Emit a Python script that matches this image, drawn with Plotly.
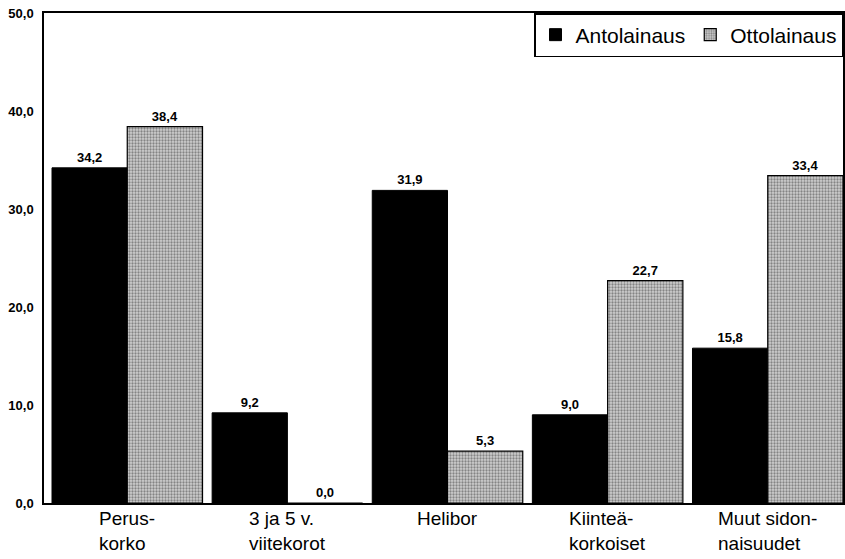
import plotly.graph_objects as go

categories = ["Perus-<br>korko", "3 ja 5 v.<br>viitekorot", "Helibor", "Kiinteä-<br>korkoiset", "Muut sidon-<br>naisuudet"]
antolainaus = [34.2, 9.2, 31.9, 9.0, 15.8]
ottolainaus = [38.4, 0.0, 5.3, 22.7, 33.4]
y_ticks = [0, 10, 20, 30, 40, 50]

FONT = "Liberation Sans, Arial, sans-serif"
xs = list(range(len(categories)))

fig = go.Figure()
fig.add_trace(go.Bar(
    x=xs, y=antolainaus, name="Antolainaus",
    marker=dict(color="#000000", line=dict(color="#000000", width=1)),
    texttemplate="%{y:.1f}", textposition="outside",
    textfont=dict(family=FONT, size=13, color="#000", weight="bold"),
    cliponaxis=False,
))
fig.add_trace(go.Bar(
    x=xs, y=ottolainaus, name="Ottolainaus",
    marker=dict(color="#b8b8b8", line=dict(color="#000000", width=1.2),
                pattern=dict(shape=".", fgcolor="#3a3a3a", bgcolor="#cfcfcf", size=3, solidity=0.45)),
    texttemplate="%{y:.1f}", textposition="outside",
    textfont=dict(family=FONT, size=13, color="#000", weight="bold"),
    cliponaxis=False,
))

for i, c in enumerate(categories):
    fig.add_annotation(x=xs[i], y=0, xref="x", yref="y", text=c, showarrow=False,
                       xanchor="center", yanchor="top", align="left", yshift=-3,
                       font=dict(family=FONT, size=19, color="#000"))

fig.update_layout(
    width=845, height=559,
    margin=dict(l=44, r=0, t=13, b=56),
    paper_bgcolor="white", plot_bgcolor="white",
    barmode="group", bargap=0.06, bargroupgap=0,
    separators=", ",
    font=dict(family=FONT, color="#000"),
    showlegend=True,
    legend=dict(orientation="h", x=1, y=1, xanchor="right", yanchor="top",
                bordercolor="#000", borderwidth=1.5, bgcolor="white",
                font=dict(family=FONT, size=21, color="#000"),
                itemwidth=30, tracegroupgap=0),
    xaxis=dict(range=[-0.52, 4.47], showticklabels=False, ticks="", showgrid=False,
               zeroline=False, showline=True, linecolor="#000", linewidth=1.5, mirror=True,
               tickvals=xs),
    yaxis=dict(range=[0, 50], tickvals=y_ticks, tickformat=".1f", ticks="", showgrid=False,
               zeroline=False, showline=True, linecolor="#000", linewidth=1.5, mirror=True,
               ticklabeloverflow="allow",
               tickfont=dict(family=FONT, size=13, color="#000", weight="bold"), ticklabelstandoff=6),
)

fig.write_html("out.html", config={"displayModeBar": False},
               post_script="document.body.style.margin='0';")
